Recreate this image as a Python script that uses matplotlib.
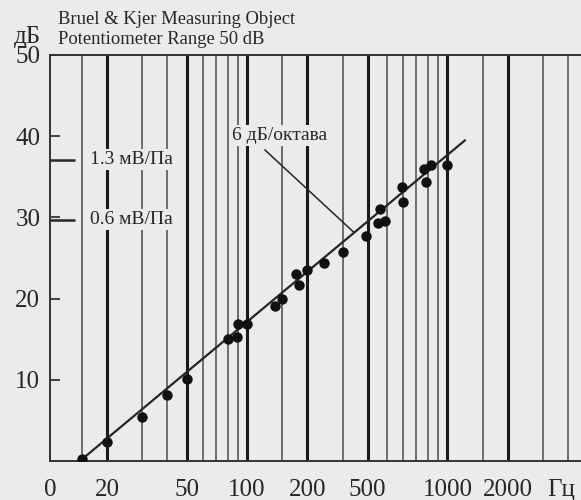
import matplotlib
matplotlib.use("Agg")
import matplotlib.pyplot as plt
import matplotlib.transforms as mtransforms

plt.rcParams['font.family'] = ['Liberation Serif', 'DejaVu Serif']

# ---- data ----
freq_pts = [15, 20, 30, 40, 50, 80, 89, 90, 100, 138, 149, 176, 182, 199, 241,
            303, 393, 448, 489, 462, 599, 592, 783, 765, 829, 993]
db_pts = [0.25, 2.4, 5.4, 8.1, 10.1, 15.0, 15.3, 16.9, 16.9, 19.1, 19.9, 23.0,
          21.7, 23.5, 24.4, 25.8, 27.7, 29.3, 29.5, 31.0, 31.9, 33.8, 34.3,
          36.0, 36.5, 36.5]
fit_freq = [15, 1225]
fit_db = [0.2, 39.5]
leader_freq = [123, 340]
leader_db = [38.3, 28.2]
slope_label = "6 дБ/октава"
slope_label_pos = (146, 40.1)

grid_thin = [15, 30, 40, 60, 70, 80, 90, 150, 300, 500, 600, 700, 800, 900,
             1500, 3000, 4000]
grid_thick = [20, 50, 100, 200, 400, 1000, 2000]

xtick_pos = [10.4, 20, 50, 100, 200, 400, 1000, 2000]
xtick_labels = ["0", "20", "50", "100", "200", "500", "1000", "2000"]
x_unit = "Гц"
x_unit_pos = 3700
ytick_pos = [10, 20, 30, 40, 50]
ytick_labels = ["10", "20", "30", "40", "50"]

sens_db = [37.1, 29.7]
sens_labels = ["1.3 мВ/Па", "0.6 мВ/Па"]
sens_text_freq = 16.4

x_min, x_max = 10.4, 4642
y_min, y_max = 0, 50

bg = '#ebebeb'
ink = '#262626'

fig = plt.figure(figsize=(5.81, 5.00), dpi=100, facecolor=bg)
ax = fig.add_axes([50 / 581, 1 - 461 / 500, 1 - 50 / 581, (461 - 55) / 500])
ax.set_facecolor(bg)
ax.set_xscale('log')
ax.set_xlim(x_min, x_max)
ax.set_ylim(y_min, y_max)

# vertical grid lines
ax.vlines(grid_thin, y_min, y_max, colors='#4a4a4a', linewidth=1.1, zorder=1)
ax.vlines(grid_thick, y_min, y_max, colors='#1a1a1a', linewidth=2.2, zorder=1)

# fit line and points
ax.plot(fit_freq, fit_db, color=ink, linewidth=1.6, zorder=3, solid_capstyle='round')
ax.plot(freq_pts, db_pts, 'o', color='#111111', markersize=7.5, zorder=4,
        markeredgewidth=0)

# slope annotation
ax.plot(leader_freq, leader_db, color=ink, linewidth=1.1, zorder=3)
ax.text(slope_label_pos[0], slope_label_pos[1], slope_label, fontsize=14,
        color=ink, ha='center', va='center', zorder=5,
        bbox=dict(facecolor=bg, edgecolor='none', pad=1.5))

# sensitivity markers
ax.set_yticks(sens_db, minor=True)
ax.tick_params(axis='y', which='minor', direction='in', length=18, width=1.8,
               color=ink)
for d, lab in zip(sens_db, sens_labels):
    ax.text(sens_text_freq, d, lab, fontsize=14, color=ink, ha='left',
            va='center', zorder=5,
            bbox=dict(facecolor=bg, edgecolor='none', pad=1.5))

# ticks
ax.set_xticks(xtick_pos)
ax.set_xticklabels(xtick_labels)
ax.xaxis.set_minor_locator(matplotlib.ticker.NullLocator())
ax.tick_params(axis='x', which='major', length=0, pad=13, labelsize=18,
               labelcolor=ink)
ax.set_yticks(ytick_pos)
ax.set_yticklabels(ytick_labels)
ax.tick_params(axis='y', which='major', direction='in', length=7.5, width=1.2,
               color=ink, pad=7, labelsize=18, labelcolor=ink)

# unit label below the axis, aligned with the tick labels
trans = mtransforms.blended_transform_factory(ax.transData, ax.transAxes)
unit_lbl = ax.xaxis.get_major_ticks()[0].label1
ax.text(x_unit_pos, 0, x_unit, transform=trans + mtransforms.ScaledTranslation(0, -13 / 72, fig.dpi_scale_trans),
        fontsize=18, color=ink, ha='center', va='top')

for s in ['left', 'bottom', 'top']:
    ax.spines[s].set_color('#333333')
    ax.spines[s].set_linewidth(1.4)
ax.spines['right'].set_visible(False)

# header texts
fig.text(58 / 581, 1 - 19 / 500, "Bruel & Kjer Measuring Object", fontsize=13.4,
         color=ink, ha='left', va='center')
fig.text(58 / 581, 1 - 39 / 500, "Potentiometer Range 50 dB", fontsize=13.4,
         color=ink, ha='left', va='center')
fig.text(27 / 581, 1 - 37 / 500, "дБ", fontsize=18, color=ink, ha='center',
         va='center')

fig.savefig("out.png", dpi=100, facecolor=bg)
